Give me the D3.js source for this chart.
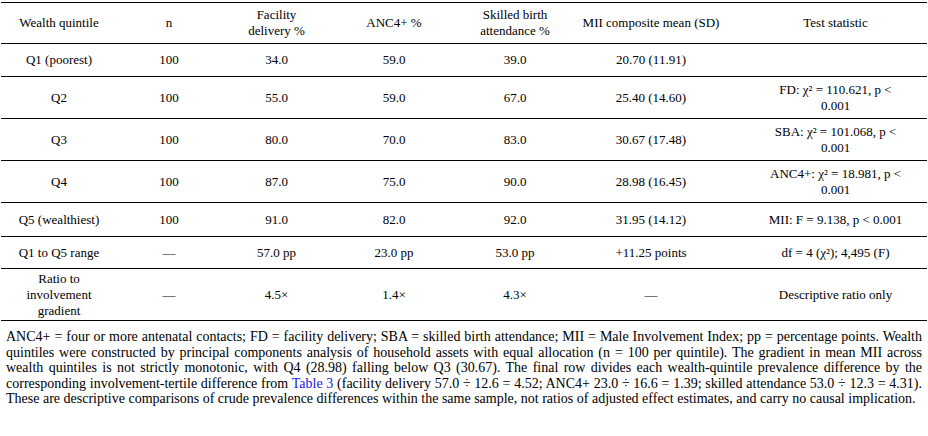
<!DOCTYPE html>
<html><head><meta charset="utf-8">
<script src="https://cdn.jsdelivr.net/npm/d3@7"></script>
<style>
body{margin:0;background:#fff;font-family:"Liberation Serif","Times New Roman",serif;font-size:13px;color:#000;}
table{border-collapse:collapse;table-layout:fixed;width:926px;margin-left:1px;margin-top:2px;}
td{text-align:center;vertical-align:middle;padding:0 4px;line-height:16px;border-top:1px solid #000;}
tr.last td{border-bottom:1px solid #000;}
.note{width:916px;margin:8px 0 0 6px;text-align:justify;line-height:15.5px;font-size:14px;}
.note a{color:#1a1ae6;text-decoration:none;}
</style></head><body>
<div id="t"></div>
<script>
var widths = [116, 104, 111, 124, 118, 170, 183];
var rowHeights = [41, 33, 42, 42, 42, 34, 32, 52];
var header = ["Wealth quintile", "n", "Facility<br>delivery %", "ANC4+ %", "Skilled birth<br>attendance %", "MII composite mean (SD)", "Test statistic"];
var groups = ["Q1 (poorest)", "Q2", "Q3", "Q4", "Q5 (wealthiest)", "Q1 to Q5 range", "Ratio to<br>involvement<br>gradient"];
var nCol = ["100", "100", "100", "100", "100", "—", "—"];
var facility = ["34.0", "55.0", "80.0", "87.0", "91.0", "57.0 pp", "4.5×"];
var anc = ["59.0", "59.0", "70.0", "75.0", "82.0", "23.0 pp", "1.4×"];
var sba = ["39.0", "67.0", "83.0", "90.0", "92.0", "53.0 pp", "4.3×"];
var mii = ["20.70 (11.91)", "25.40 (14.60)", "30.67 (17.48)", "28.98 (16.45)", "31.95 (14.12)", "+11.25 points", "—"];
var tests = ["", "FD: χ² = 110.621, p &lt;<br>0.001", "SBA: χ² = 101.068, p &lt;<br>0.001", "ANC4+: χ² = 18.981, p &lt;<br>0.001", "MII: F = 9.138, p &lt; 0.001", "df = 4 (χ²); 4,495 (F)", "Descriptive ratio only"];

var rows = [header].concat(groups.map(function(g, i) {
  return [g, nCol[i], facility[i], anc[i], sba[i], mii[i], tests[i]];
}));

var table = d3.select("#t").append("table");
table.append("colgroup").selectAll("col").data(widths).enter().append("col")
  .attr("style", function(d) { return "width:" + d + "px"; });

var tr = table.selectAll("tr").data(rows).enter().append("tr")
  .attr("class", function(d, i) { return i == rows.length - 1 ? "last" : null; })
  .style("height", function(d, i) { return rowHeights[i] + "px"; });

tr.selectAll("td").data(function(d) { return d; }).enter().append("td")
  .style("padding-right", function(d, i) { return i == 5 ? "20px" : null; })
  .style("white-space", function(d, i) { return i == 5 ? "nowrap" : null; })
  .html(function(d) { return d; });

d3.select("body").append("div").attr("class", "note").html(
  "ANC4+ = four or more antenatal contacts; FD = facility delivery; SBA = skilled birth attendance; MII = Male Involvement Index; pp = percentage points. Wealth quintiles were constructed by principal components analysis of household assets with equal allocation (n = 100 per quintile). The gradient in mean MII across wealth quintiles is not strictly monotonic, with Q4 (28.98) falling below Q3 (30.67). The final row divides each wealth-quintile prevalence difference by the corresponding involvement-tertile difference from <a>Table 3</a> (facility delivery 57.0 ÷ 12.6 = 4.52; ANC4+ 23.0 ÷ 16.6 = 1.39; skilled attendance 53.0 ÷ 12.3 = 4.31). These are descriptive comparisons of crude prevalence differences within the same sample, not ratios of adjusted effect estimates, and carry no causal implication.");
</script>
</body></html>
